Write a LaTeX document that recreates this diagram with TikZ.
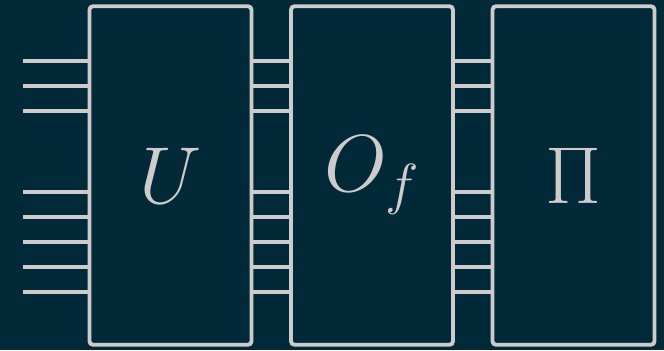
\RequirePackage{fix-cm}
\documentclass[tikz,border=0pt]{standalone}
\usepackage{amsmath}
\definecolor{deepteal}{RGB}{2,41,56}
\definecolor{wiregray}{RGB}{204,204,204}
\usetikzlibrary{positioning}

\begin{document}
\begin{tikzpicture}[node distance=0.79cm]
  \tikzstyle{gatebox}=[rectangle,draw=wiregray,line width=2.2pt,minimum width=3.24cm,minimum height=6.77cm,outer sep=0pt,rounded corners=2pt,text=wiregray,font=\fontsize{46}{50}\selectfont]
  \tikzstyle{wire}=[draw=wiregray,line width=2.2pt]

  \fill[deepteal] (0,0) rectangle (13.28,7);
  \useasboundingbox (0,0) rectangle (13.28,7);

  \node[gatebox] (u) at (3.41,3.49) {$U$};
  \node[gatebox,right=of u] (of) {$O_f$};
  \node[gatebox,right=of of] (pi) {$\Pi$};

  % free ends of the input wires
  \foreach \i/\y in {1/5.78,2/5.28,3/4.78,4/3.16,5/2.66,6/2.16,7/1.66,8/1.16}
    \coordinate (w\i) at (0.45,\y);

  \foreach \i in {1,...,8} {
    \draw[wire] (w\i) -- (w\i -| u.west);
    \draw[wire] (w\i -| u.east) -- (w\i -| of.west);
    \draw[wire] (w\i -| of.east) -- (w\i -| pi.west);
  }
\end{tikzpicture}
\end{document}
